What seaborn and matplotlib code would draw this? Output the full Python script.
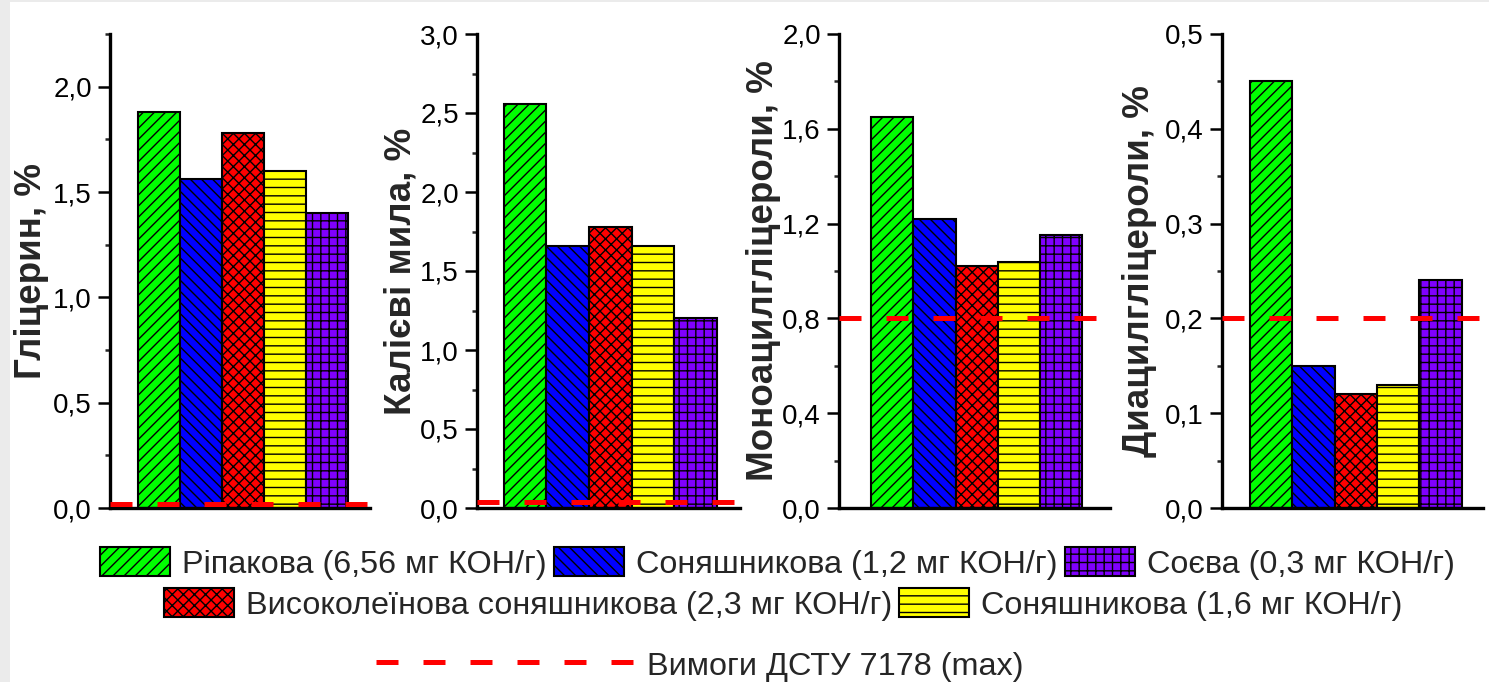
import pandas as pd
import seaborn as sns
import matplotlib.pyplot as plt
from matplotlib.ticker import MultipleLocator, FuncFormatter
from matplotlib.lines import Line2D
from matplotlib.patches import Rectangle

# data
oils = ['Ріпакова (6,56 мг КОН/г)', 'Соняшникова (1,2 мг КОН/г)',
        'Високолеїнова соняшникова (2,3 мг КОН/г)', 'Соняшникова (1,6 мг КОН/г)',
        'Соєва (0,3 мг КОН/г)']
colors = ['#00ff00', '#0000ff', '#ff0000', '#ffff00', '#8000ff']
hatches = ['///', '\\\\\\', 'xxx', '--', '++']

glycerin = [1.88, 1.56, 1.78, 1.60, 1.40]
soaps = [2.56, 1.66, 1.78, 1.66, 1.20]
monoacyl = [1.65, 1.22, 1.02, 1.04, 1.15]
diacyl = [0.45, 0.15, 0.12, 0.13, 0.24]
limits = [0.02, 0.04, 0.8, 0.2]
limit_label = 'Вимоги ДСТУ 7178 (max)'

ylabels = ['Гліцерин, %', 'Калієві мила, %', 'Моноацилгліцероли, %', 'Диацилгліцероли, %']
ymax = [2.25, 3.0, 2.0, 0.5]
major_step = [0.5, 0.5, 0.4, 0.1]

sns.set_theme(style='white')
plt.rcParams['font.family'] = ['Liberation Sans', 'DejaVu Sans']
plt.rcParams['hatch.linewidth'] = 1.0

W, H = 1489, 682
fig = plt.figure(figsize=(W / 100, H / 100), dpi=100)
fig.patch.set_facecolor('#ebebeb')
fig.add_artist(Rectangle((10 / W, 0), 1, 1 - 2 / H, transform=fig.transFigure,
                         facecolor='white', edgecolor='none', zorder=-1))

# axes boxes in pixels: left, right ; top/bottom shared
boxes = [(110, 370), (477, 740), (839, 1110), (1222, 1483)]
xlims = [(-1.17, 5.02), (-1.13, 5.04), (-1.26, 5.16), (-1.16, 5.0)]
label_x = [-0.30, -0.29, -0.28, -0.315]
top, bottom = 34, 508

fmt = FuncFormatter(lambda v, p: f'{v:.1f}'.replace('.', ','))

axes = []
for i, vals in enumerate([glycerin, soaps, monoacyl, diacyl]):
    l, r = boxes[i]
    ax = fig.add_axes([l / W, 1 - bottom / H, (r - l) / W, (bottom - top) / H])
    df = pd.DataFrame({'oil': oils, 'value': vals})
    sns.barplot(data=df, x='oil', y='value', hue='oil', order=oils, hue_order=oils,
                palette=colors, saturation=1, width=1.0, edgecolor='black',
                linewidth=1.5, legend=False, ax=ax)
    for patch, h in zip(ax.patches, hatches):
        patch.set_hatch(h)
    ax.axhline(limits[i], color='red', lw=3.6, dashes=(4.4, 5), zorder=5)

    ax.set_xlim(*xlims[i])
    ax.set_ylim(0, ymax[i])
    ax.set_xticks([])
    ax.set_xlabel('')
    ax.yaxis.set_major_locator(MultipleLocator(major_step[i]))
    ax.yaxis.set_minor_locator(MultipleLocator(major_step[i] / 2))
    ax.yaxis.set_major_formatter(fmt)
    ax.tick_params(axis='y', which='major', direction='out', left=True,
                   length=8.6, width=1.8, labelsize=20, pad=4.5, colors='black')
    ax.tick_params(axis='y', which='minor', direction='out', left=True,
                   length=3.6, width=1.8)
    ax.set_ylabel(ylabels[i], fontsize=26.5, fontweight='bold', va='center')
    ax.yaxis.set_label_coords(label_x[i], 0.5)
    sns.despine(ax=ax)
    for s in ['left', 'bottom']:
        ax.spines[s].set_linewidth(2.4)
        ax.spines[s].set_color('black')
    axes.append(ax)

bars = axes[0].patches
leg_kw = dict(loc='center', frameon=False, fontsize=23.3, handlelength=2.16,
              handleheight=1.02, handletextpad=0.37, columnspacing=0.23,
              borderpad=0, borderaxespad=0)
leg1 = fig.legend([bars[0], bars[1], bars[4]], [oils[0], oils[1], oils[4]],
                  ncol=3, bbox_to_anchor=(0.522, 0.174), **leg_kw)
leg2 = fig.legend([bars[2], bars[3]], [oils[2], oils[3]],
                  ncol=2, bbox_to_anchor=(0.526, 0.114), **leg_kw)
dash = Line2D([], [], color='red', lw=3.6, dashes=(4.4, 5))
leg3 = fig.legend([dash], [limit_label], bbox_to_anchor=(0.470, 0.024),
                  **dict(leg_kw, handlelength=8.0))

fig.savefig('out.png', dpi=100)
